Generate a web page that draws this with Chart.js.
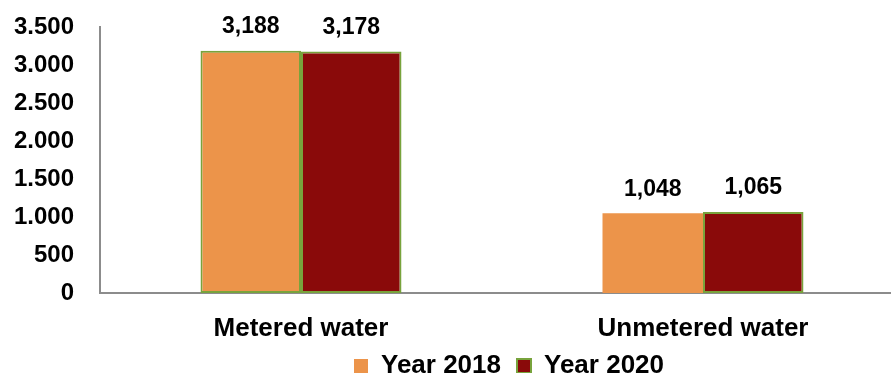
<!DOCTYPE html>
<html>
<head>
<meta charset="utf-8">
<script src="https://cdn.jsdelivr.net/npm/chart.js@4/dist/chart.umd.min.js"></script>
<style>
  html, body { margin: 0; padding: 0; background: #fff; overflow: hidden; }
  #wrap { width: 904px; height: 380px; }
</style>
</head>
<body>
<div id="wrap"><canvas id="barChart"></canvas></div>
<script>
const categories = ["Metered water", "Unmetered water"];
const year2018 = [3188, 1048];
const year2020 = [3178, 1065];
const yTicks = [0, 500, 1000, 1500, 2000, 2500, 3000, 3500];

// 2018 bars: only the first one has an outline
const border2018 = [2, 0];
const border2020 = [2, 2];

const ORANGE = "#EC944A";
const DARK_RED = "#8A0A0A";
const GREEN = "#78A33C";
const FONT = "'Liberation Sans', Arial, sans-serif";

// value labels over each bar
const barValues = {
    id: "barValues",
    afterDatasetsDraw(chart) {
        const ctx = chart.ctx;
        ctx.save();
        ctx.font = "bold 23px " + FONT;
        ctx.fillStyle = "#000";
        ctx.textAlign = "center";
        ctx.textBaseline = "middle";
        chart.data.datasets.forEach((ds, i) => {
            chart.getDatasetMeta(i).data.forEach((bar, j) => {
                ctx.fillText(ds.data[j].toLocaleString("en-US"), bar.x, bar.y - 24);
            });
        });
        ctx.restore();
    }
};

// keep the legend strip short even with item padding, and nudge it right/up
const legendShift = {
    id: "legendShift",
    afterInit(chart) {
        const lg = chart.legend;
        const fit = lg.fit;
        lg.fit = function () {
            fit.call(this);
            this.height = 36;
        };
    },
    afterLayout(chart) {
        const lg = chart.legend;
        lg.left += 50;
        lg.right += 50;
        lg.top -= 7;
        lg.bottom -= 7;
    }
};

new Chart(document.getElementById("barChart"), {
    type: "bar",
    data: {
        labels: categories,
        datasets: [{
            label: "Year 2018",
            data: year2018,
            backgroundColor: ORANGE,
            borderColor: GREEN,
            borderWidth: border2018,
            borderSkipped: false
        }, {
            label: "Year 2020",
            data: year2020,
            backgroundColor: DARK_RED,
            borderColor: GREEN,
            borderWidth: border2020,
            borderSkipped: false
        }]
    },
    options: {
        responsive: true,
        maintainAspectRatio: false,
        animation: false,
        layout: { padding: { left: 14, top: 27, right: 0, bottom: 0 } },
        datasets: { bar: { categoryPercentage: 0.5, barPercentage: 1.0 } },
        scales: {
            x: {
                afterFit(scale) {
                    scale.height = 51;
                    scale.paddingLeft = 0;
                    scale.paddingRight = 0;
                },
                grid: { display: false, drawTicks: false },
                border: { display: true, color: "#8C8C8C", width: 2 },
                ticks: { color: "#000", font: { family: FONT, size: 26, weight: "bold" }, padding: 20 }
            },
            y: {
                min: 0,
                max: 3500,
                afterBuildTicks(scale) { scale.ticks = yTicks.map(v => ({ value: v })); },
                afterFit(scale) {
                    scale.width = 86;
                    scale.paddingTop = 0;
                    scale.paddingBottom = 0;
                },
                grid: { display: false, drawTicks: false },
                border: { display: true, color: "#8C8C8C", width: 2 },
                ticks: {
                    color: "#000",
                    padding: 26,
                    font: { family: FONT, size: 24, weight: "bold" },
                    callback: v => v.toLocaleString("de-DE")
                }
            }
        },
        plugins: {
            tooltip: { enabled: false },
            legend: {
                position: "bottom",
                labels: {
                    color: "#000",
                    boxWidth: 14,
                    boxHeight: 14,
                    padding: 16,
                    font: { family: FONT, size: 26, weight: "bold" },
                    generateLabels(chart) {
                        const items = Chart.defaults.plugins.legend.labels.generateLabels(chart);
                        items[0].lineWidth = 0;
                        items[1].lineWidth = 2;
                        return items;
                    }
                }
            }
        }
    },
    plugins: [barValues, legendShift]
});
</script>
</body>
</html>
